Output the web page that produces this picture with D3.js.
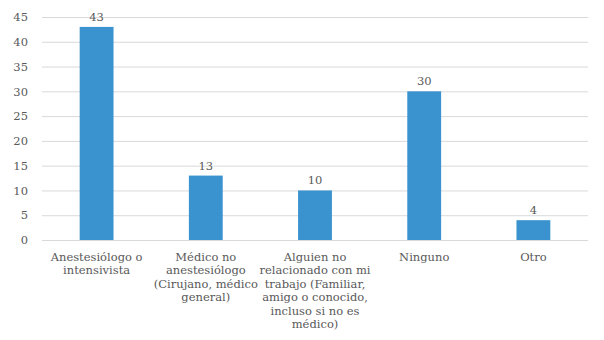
<!DOCTYPE html>
<html>
<head>
<meta charset="utf-8">
<script src="https://cdn.jsdelivr.net/npm/d3@7"></script>
<style>
  body { margin: 0; background: #fff; }
  svg text { font-family: "DejaVu Serif", serif; fill: #595959; }
</style>
</head>
<body>
<div id="chart"></div>
<script>
// Category labels, already split into lines as in the original
const categories = [
    ["Anestesiólogo o", "intensivista"],
    ["Médico no", "anestesiólogo", "(Cirujano, médico", "general)"],
    ["Alguien no", "relacionado con mi", "trabajo (Familiar,", "amigo o conocido,", "incluso si no es", "médico)"],
    ["Ninguno"],
    ["Otro"]
];
const values = [43, 13, 10, 30, 4];
const yTicks = [0, 5, 10, 15, 20, 25, 30, 35, 40, 45];

let margin = {top: 17, left: 42, right: 16, bottom: 100};
let width = 604, height = 340;
let plotW = width - margin.left - margin.right;
let plotH = 240 - margin.top;

let svg = d3.select("#chart").append("svg")
    .attr("width", width)
    .attr("height", height);

let g = svg.append("g")
    .attr("transform", "translate(" + margin.left + "," + margin.top + ")");

let x = d3.scaleBand()
    .domain(d3.range(categories.length))
    .range([0, plotW])
    .paddingInner(0.69)
    .paddingOuter(0.345);

let y = d3.scaleLinear()
    .domain([0, 45])
    .range([plotH, 0]);

// gridlines + tick labels
let yAxis = d3.axisLeft(y)
    .tickValues(yTicks)
    .tickSize(-plotW)
    .tickPadding(14);

let ya = g.append("g").call(yAxis);
ya.select(".domain").remove();
ya.selectAll("line").attr("stroke", "#d9d9d9").attr("stroke-width", 1);
ya.selectAll("text").attr("font-size", "11.5px");

// bars
g.selectAll("rect.bar")
    .data(values)
    .enter().append("rect")
    .attr("class", "bar")
    .attr("x", function(d, i) { return x(i); })
    .attr("y", function(d) { return y(d); })
    .attr("width", x.bandwidth())
    .attr("height", function(d) { return plotH - y(d); })
    .attr("fill", "#3a93cf");

// value labels
g.selectAll("text.val")
    .data(values)
    .enter().append("text")
    .attr("class", "val")
    .attr("x", function(d, i) { return x(i) + x.bandwidth() / 2; })
    .attr("y", function(d) { return y(d) - 6; })
    .attr("text-anchor", "middle")
    .attr("font-size", "11.5px")
    .text(function(d) { return d; });

// category labels
let cat = g.selectAll("text.cat")
    .data(categories)
    .enter().append("text")
    .attr("class", "cat")
    .attr("text-anchor", "middle")
    .attr("font-size", "11.5px")
    .attr("transform", function(d, i) {
        return "translate(" + (x(i) + x.bandwidth() / 2) + "," + (plotH + 21) + ")";
    });

cat.selectAll("tspan")
    .data(function(d) { return d; })
    .enter().append("tspan")
    .attr("x", 0)
    .attr("y", function(d, j) { return j * 13.4; })
    .text(function(d) { return d; });
</script>
</body>
</html>
